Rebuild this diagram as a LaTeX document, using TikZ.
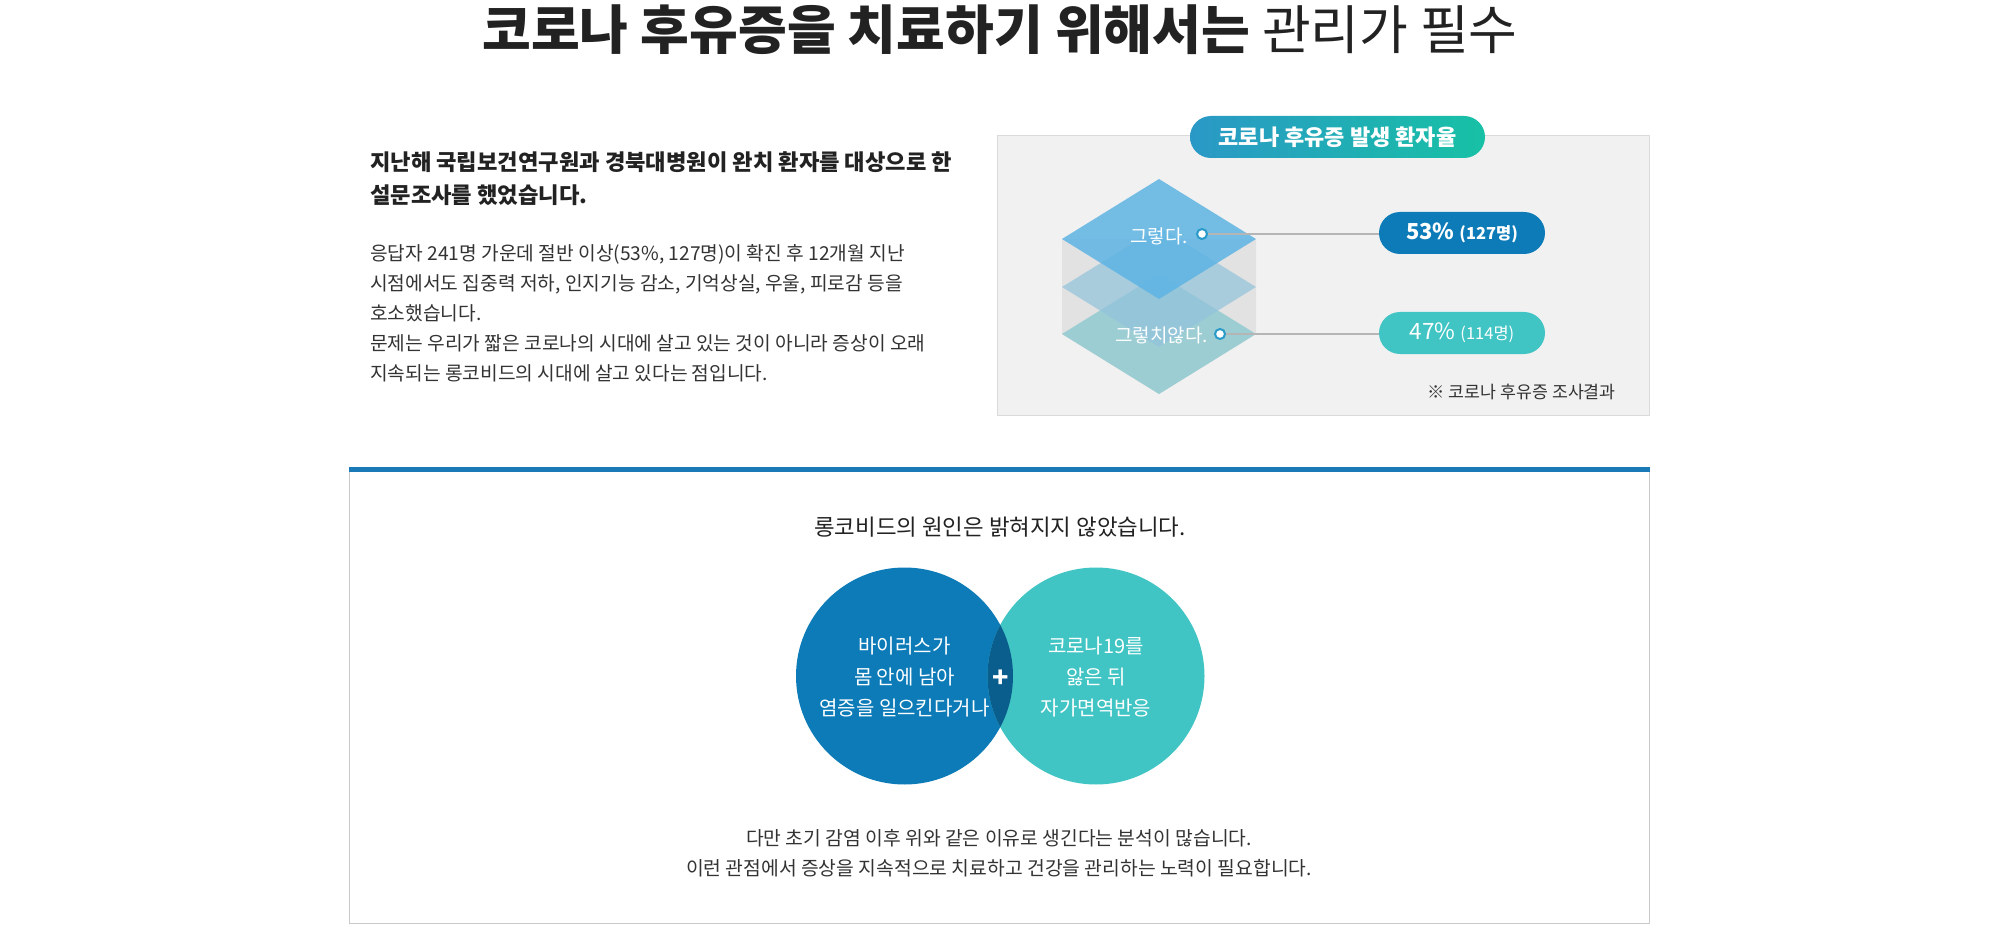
\documentclass[tikz,border=0pt]{standalone}
\usepackage{fontspec}
\setmainfont{Noto Sans CJK KR}
\usetikzlibrary{shapes.misc}
\definecolor{ink}{HTML}{222222}
\definecolor{body}{HTML}{333333}
\definecolor{boxfill}{HTML}{F1F1F1}
\definecolor{boxline}{HTML}{DADADA}
\definecolor{pillL}{HTML}{2A98C6}
\definecolor{pillR}{HTML}{17C1A5}
\definecolor{darkblue}{HTML}{0C7BB8}
\definecolor{teal}{HTML}{40C4C4}
\definecolor{overlap}{HTML}{0A5E8E}
\definecolor{dtop}{HTML}{5DB4E4}
\definecolor{dmid}{HTML}{92C3DC}
\definecolor{dbot}{HTML}{9CCDD3}
\definecolor{side}{HTML}{E2E2E2}
\definecolor{conn}{HTML}{B5B5B5}
\definecolor{dotring}{HTML}{2A9AC8}
\definecolor{frame}{HTML}{C9C9C9}
\definecolor{bar}{HTML}{1A7AB7}
\newcommand{\fs}[2]{\fontsize{#1}{#2}\selectfont}
\tikzset{
  tx/.style={inner sep=0pt, font=\fontsize{#1}{#1}\selectfont, text height=0.8*#1pt, text depth=0.05*#1pt},
  pill/.style={rounded rectangle, minimum width=166pt, minimum height=42pt, inner sep=0pt, text=white},
  dot/.style={circle, fill=white, draw=dotring, line width=2pt, minimum size=10pt, inner sep=0pt},
  venn/.style={circle, minimum size=217pt, inner sep=0pt},
  conline/.style={draw=conn, line width=1.3pt},
}
\begin{document}
\begin{tikzpicture}[x=1pt,y=-1pt]
\useasboundingbox[fill=white] (0,0) rectangle (2000,925);

% title
\node[tx=53, text=ink] (title) at (1000,30) {\textbf{코로나 후유증을 치료하기 위해서는} 관리가 필수};

% left text
\node[tx=22.2, text=ink, anchor=west] (h1) at (370,162) {\textbf{지난해 국립보건연구원과 경북대병원이 완치 환자를 대상으로 한}};
\node[tx=22.2, text=ink, anchor=west] (h2) at (370,195) {\textbf{설문조사를 했었습니다.}};
\node[tx=19.2, text=body, anchor=west] (b1) at (370,253) {응답자 241명 가운데 절반 이상(53\%, 127명)이 확진 후 12개월 지난};
\node[tx=19.2, text=body, anchor=west] (b2) at (370,283) {시점에서도 집중력 저하, 인지기능 감소, 기억상실, 우울, 피로감 등을};
\node[tx=19.2, text=body, anchor=west] (b3) at (370,313) {호소했습니다.};
\node[tx=19.2, text=body, anchor=west] (b4) at (370,343) {문제는 우리가 짧은 코로나의 시대에 살고 있는 것이 아니라 증상이 오래};
\node[tx=19.2, text=body, anchor=west] (b5) at (370,373) {지속되는 롱코비드의 시대에 살고 있다는 점입니다.};

% right gray box
\draw[fill=boxfill, draw=boxline, line width=1pt] (997.5,135.5) rectangle (1649.5,415.5);
\node[pill, left color=pillL, right color=pillR, minimum width=295pt, font=\fs{22}{26}] (ptitle) at (1337.5,137) {\textbf{코로나 후유증 발생 환자율}};

% stacked diamonds
\fill[side] (1062,239) -- (1256,239) -- (1256,334) -- (1159,394) -- (1062,334) -- cycle;
\fill[dbot] (1159,274) -- (1256,334) -- (1159,394) -- (1062,334) -- cycle;
\fill[dmid, opacity=0.7] (1159,227) -- (1256,287) -- (1159,347) -- (1062,287) -- cycle;
\fill[dtop, opacity=0.85] (1159,179) -- (1256,239) -- (1159,299) -- (1062,239) -- cycle;

\node[tx=19, text=white, anchor=east] (yes) at (1188,236) {그렇다.};
\node[tx=19, text=white, anchor=east] (no) at (1208,335) {그렇치않다.};

\node[pill, fill=darkblue, font=\fs{22}{26}] (p1) at (1462,233) {\textbf{53\%} {\fs{16.5}{20}\textbf{(127명)}}};
\node[pill, fill=teal, font=\fs{22.5}{26}] (p2) at (1462,333) {47\% {\fs{16.5}{20}(114명)}};

\node[dot] (d1) at (1202,234) {};
\node[dot] (d2) at (1220,334) {};
\draw[conline] (d1.east) -- (d1.east -| p1.west);
\draw[conline] (d2.east) -- (d2.east -| p2.west);

\node[tx=17.3, text=body, anchor=east] (cap) at (1616,392) {※ 코로나 후유증 조사결과};

% lower box
\draw[draw=frame, line width=1pt] (349.5,467) rectangle (1649.5,923.5);
\fill[bar] (349,467) rectangle (1650,472);

\node[tx=22.4, text=ink] (q) at (1000,527) {롱코비드의 원인은 밝혀지지 않았습니다.};

\node[venn, fill=darkblue] (L) at (904.5,676) {};
\node[venn, fill=teal] (R) at (1096,676) {};
\begin{scope}
  \clip (904.5,676) circle (108.5);
  \fill[overlap] (1096,676) circle (108.5);
\end{scope}
\node[text=white, align=center, inner sep=0pt, font=\fs{20}{31}] (Lt) at (904.5,677) {바이러스가\\몸 안에 남아\\염증을 일으킨다거나};
\node[text=white, align=center, inner sep=0pt, font=\fs{20}{31}] (Rt) at (1096,677) {코로나19를\\앓은 뒤\\자가면역반응};
\node[tx=27, text=white] (plus) at (1001,677) {\textbf{+}};

\node[tx=19.3, text=body] (c1) at (999,838) {다만 초기 감염 이후 위와 같은 이유로 생긴다는 분석이 많습니다.};
\node[tx=19.3, text=body] (c2) at (999,868) {이런 관점에서 증상을 지속적으로 치료하고 건강을 관리하는 노력이 필요합니다.};
\end{tikzpicture}
\end{document}
